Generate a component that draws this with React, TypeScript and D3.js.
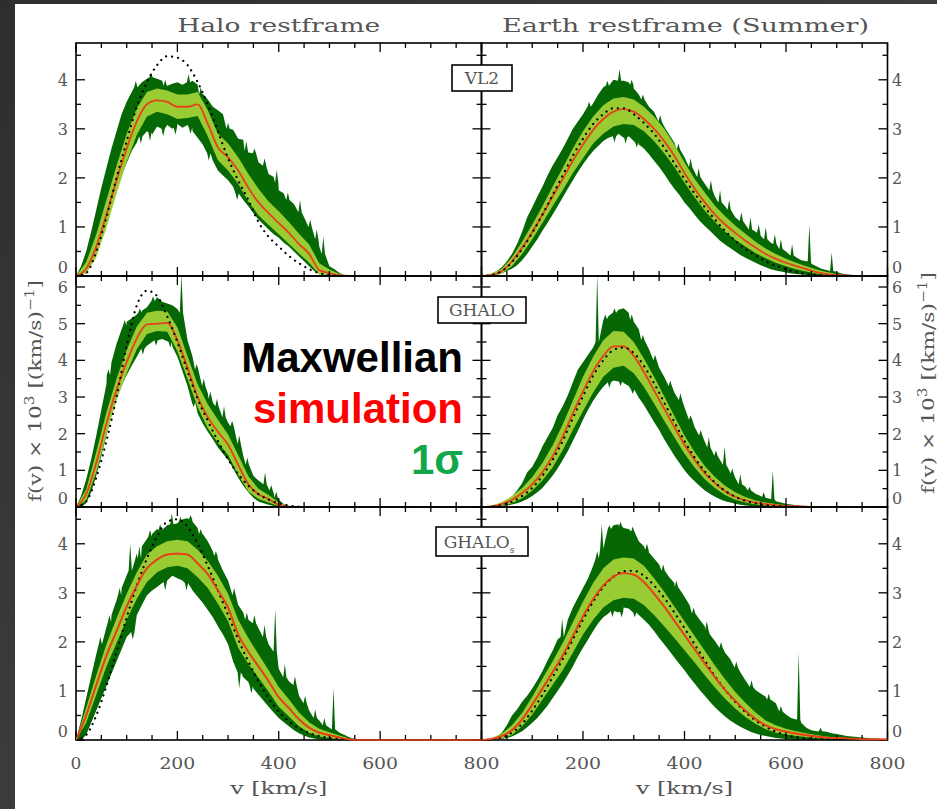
import React from "react";
import * as d3 from "d3";

// ---------- grids ----------
const V20 = d3.range(0, 801, 20);
const V10 = d3.range(0, 801, 10);
const pad = (a: number[], n: number) => a.concat(new Array(Math.max(0, n - a.length)).fill(0));

// ---------- labels ----------
const columnTitles = ["Halo restframe", "Earth restframe (Summer)"];
const legendLabels = ["Maxwellian", "simulation", "1σ"];
const legendColors = ["#000000", "#ff0000", "#12a84a"];
const xTickLabelsLeft = [0, 200, 400, 600, 800];
const xTickLabelsRight = [200, 400, 600, 800];
const yTicksRow = [[0, 1, 2, 3, 4], [0, 1, 2, 3, 4, 5, 6], [0, 1, 2, 3, 4]];
const yMaxRow = [4.75, 6.3, 4.75];
const simNames = ["VL2", "GHALO", "GHALO"];
const simSubs = ["", "", "s"];

// ---------- Panel A: VL2, halo restframe ----------
const maxwellA = pad([
  0, 0.06, 0.5, 1.2, 2.0, 2.75, 3.45, 3.95, 4.3, 4.48,
  4.45, 4.3, 3.95, 3.5, 2.95, 2.4, 1.95, 1.55, 1.1, 0.8,
  0.6, 0.41, 0.26, 0.14, 0.06, 0.02, 0], 41);
const simA = pad([
  0, 0.15, 0.6, 1.25, 1.95, 2.6, 3.15, 3.5, 3.58, 3.55,
  3.45, 3.45, 3.5, 3.1, 2.62, 2.42, 2.15, 1.8, 1.5, 1.28,
  1.08, 0.88, 0.65, 0.45, 0.12, 0.06, 0.01, 0], 41);
const lightHiA = pad([
  0, 0.28, 0.85, 1.55, 2.25, 2.9, 3.42, 3.75, 3.82, 3.78,
  3.7, 3.7, 3.75, 3.38, 2.9, 2.7, 2.42, 2.08, 1.78, 1.52,
  1.32, 1.1, 0.86, 0.64, 0.26, 0.13, 0.04, 0], 41);
const lightLoA = pad([
  0, 0.04, 0.38, 0.98, 1.68, 2.32, 2.88, 3.25, 3.35, 3.3,
  3.2, 3.22, 3.26, 2.85, 2.36, 2.15, 1.88, 1.52, 1.24, 1.04,
  0.85, 0.66, 0.46, 0.27, 0.03, 0.01, 0], 41);
const darkHiA = pad([
  0, 0.2, 0.5, 0.9, 1.35, 1.8, 2.2, 2.6, 2.95, 3.3,
  3.55, 3.75, 3.92, 3.95, 4.02, 4.1, 4.02, 3.98, 3.88, 3.92,
  3.95, 3.9, 4.05, 3.98, 3.9, 3.72, 3.6, 3.45, 3.38, 3.3,
  3.05, 2.98, 2.8, 2.78, 2.52, 2.55, 2.32, 2.3, 2.08, 2.02,
  1.75, 1.68, 1.55, 1.47, 1.35, 1.2, 1.0, 0.82, 0.6, 0.33,
  0.2, 0.14, 0.06, 0.01, 0], 81);
const darkLoA = pad([
  0, 0, 0.1, 0.3, 0.55, 0.85, 1.15, 1.45, 1.75, 2.05,
  2.3, 2.55, 2.72, 2.85, 2.95, 2.88, 3.05, 2.98, 3.08, 3.0,
  3.1, 3.02, 3.08, 2.95, 2.82, 2.68, 2.52, 2.35, 2.15, 2.05,
  1.95, 1.82, 1.7, 1.55, 1.42, 1.28, 1.15, 1.05, 0.95, 0.85,
  0.78, 0.68, 0.6, 0.5, 0.4, 0.3, 0.2, 0.1, 0.04, 0.02, 0], 81);
const spikesA = [[396, 2.16, 1.9], [442, 1.55, 1.3], [488, 0.8, 0.45], [222, 4.12, 3.95],
  [118, 3.98, 3.85], [148, 4.15, 4.05], [176, 4.0, 3.88], [246, 3.85, 3.7], [300, 3.12, 3.0],
  [336, 2.75, 2.55], [352, 2.6, 2.5], [372, 2.4, 2.25], [418, 1.7, 1.55], [462, 1.15, 1.0], [475, 0.95, 0.75]];
const dipsA = [[128, 2.7, 2.85], [146, 2.75, 2.93], [172, 2.85, 3.0], [196, 2.88, 3.02], [226, 2.9, 3.02], [262, 2.35, 2.5], [318, 1.55, 1.68]];

// ---------- Panel B: VL2, earth restframe ----------
const maxwellB = pad([
  0, 0.02, 0.1, 0.28, 0.55, 0.88, 1.25, 1.65, 2.05, 2.45,
  2.8, 3.1, 3.3, 3.42, 3.42, 3.3, 3.12, 2.9, 2.62, 2.3,
  1.98, 1.68, 1.4, 1.15, 0.92, 0.72, 0.55, 0.42, 0.3, 0.21,
  0.14, 0.08, 0.04, 0.02, 0.01, 0], 41);
const simB = pad([
  0, 0.02, 0.1, 0.3, 0.58, 0.9, 1.25, 1.62, 1.98, 2.35,
  2.68, 2.98, 3.2, 3.35, 3.4, 3.35, 3.2, 3.0, 2.75, 2.45,
  2.1, 1.78, 1.5, 1.25, 1.05, 0.88, 0.72, 0.58, 0.45, 0.35,
  0.27, 0.2, 0.14, 0.08, 0.04, 0.02, 0.01, 0], 41);
const lightHiB = pad([
  0, 0.05, 0.15, 0.38, 0.7, 1.05, 1.42, 1.82, 2.2, 2.6,
  2.95, 3.25, 3.48, 3.62, 3.65, 3.6, 3.45, 3.25, 3.0, 2.68,
  2.32, 1.98, 1.7, 1.43, 1.22, 1.03, 0.86, 0.7, 0.56, 0.45,
  0.35, 0.27, 0.2, 0.13, 0.08, 0.04, 0.02, 0.01, 0], 41);
const lightLoB = pad([
  0, 0, 0.05, 0.2, 0.45, 0.75, 1.08, 1.42, 1.75, 2.1,
  2.4, 2.7, 2.9, 3.05, 3.1, 3.08, 2.95, 2.75, 2.5, 2.22,
  1.9, 1.6, 1.33, 1.1, 0.9, 0.74, 0.6, 0.47, 0.36, 0.27,
  0.2, 0.14, 0.09, 0.05, 0.02, 0.01, 0], 41);
const darkHiB = pad([
  0, 0.02, 0.05, 0.1, 0.18, 0.3, 0.45, 0.65, 0.9, 1.2,
  1.4, 1.62, 1.82, 2.05, 2.25, 2.42, 2.6, 2.8, 3.0, 3.15,
  3.3, 3.45, 3.52, 3.7, 3.85, 3.92, 4.0, 4.05, 3.98, 3.95,
  3.82, 3.7, 3.6, 3.45, 3.35, 3.18, 3.05, 2.88, 2.72, 2.55,
  2.42, 2.25, 2.12, 2.0, 1.88, 1.75, 1.62, 1.52, 1.42, 1.3,
  1.2, 1.12, 1.05, 0.95, 0.9, 0.82, 0.75, 0.68, 0.62, 0.55,
  0.5, 0.42, 0.38, 0.32, 0.3, 0.25, 0.2, 0.15, 0.12, 0.1,
  0.08, 0.05, 0.03, 0.02, 0.01, 0], 81);
const darkLoB = pad([
  0, 0, 0, 0.02, 0.05, 0.1, 0.15, 0.22, 0.32, 0.45,
  0.6, 0.75, 0.92, 1.08, 1.25, 1.42, 1.6, 1.78, 1.95, 2.12,
  2.28, 2.42, 2.55, 2.65, 2.75, 2.82, 2.85, 2.9, 2.82, 2.85,
  2.75, 2.68, 2.6, 2.48, 2.35, 2.22, 2.08, 1.92, 1.78, 1.65,
  1.5, 1.38, 1.25, 1.12, 1.02, 0.92, 0.82, 0.72, 0.64, 0.57,
  0.5, 0.43, 0.37, 0.32, 0.27, 0.22, 0.18, 0.14, 0.11, 0.09,
  0.07, 0.05, 0.04, 0.03, 0.02, 0.01, 0], 81);
const spikesB = [[272, 4.22, 3.98], [646, 1.05, 0.3], [690, 0.48, 0.1], [470, 1.75, 1.5], [530, 1.2, 0.95], [560, 1.0, 0.75], [590, 0.75, 0.55],
  [212, 3.55, 3.45], [248, 3.98, 3.88], [296, 4.0, 3.9], [318, 3.7, 3.6], [352, 3.28, 3.15], [388, 2.7, 2.58], [412, 2.4, 2.22],
  [428, 2.2, 2.02], [452, 1.95, 1.75], [488, 1.55, 1.35], [512, 1.3, 1.12], [546, 1.05, 0.88], [578, 0.85, 0.65], [612, 0.65, 0.42]];
const dipsB = [[262, 2.72, 2.85], [284, 2.7, 2.83], [306, 2.62, 2.72]];

// ---------- Panel C: GHALO, halo restframe ----------
const maxwellC = pad([
  0, 0.15, 0.8, 1.8, 3.0, 4.4, 5.5, 5.9, 5.75, 5.2,
  4.5, 3.7, 2.95, 2.35, 1.8, 1.3, 0.9, 0.58, 0.35, 0.2,
  0.1, 0.04, 0.01, 0], 41);
const simC = pad([
  0, 0.35, 1.2, 2.27, 3.2, 3.95, 4.6, 4.98, 5.0, 5.02,
  4.55, 3.8, 3.0, 2.45, 2.05, 1.7, 1.15, 0.62, 0.35, 0.22,
  0.06, 0.01, 0], 41);
const lightHiC = pad([
  0, 0.48, 1.5, 2.58, 3.5, 4.28, 4.92, 5.3, 5.35, 5.33,
  4.9, 4.12, 3.35, 2.8, 2.38, 1.98, 1.42, 0.84, 0.5, 0.33,
  0.12, 0.03, 0], 41);
const lightLoC = pad([
  0, 0.18, 0.95, 1.98, 2.92, 3.65, 4.3, 4.72, 4.8, 4.78,
  4.25, 3.5, 2.72, 2.15, 1.75, 1.42, 0.88, 0.42, 0.22, 0.12,
  0.02, 0], 41);
const darkHiC = pad([
  0, 0.3, 0.75, 1.3, 1.95, 2.65, 3.35, 3.95, 4.45, 4.85,
  5.05, 5.15, 5.25, 5.35, 5.45, 5.6, 5.72, 5.6, 5.55, 5.5,
  5.4, 5.0, 4.55, 4.1, 3.7, 3.35, 3.1, 2.85, 2.65, 2.5,
  2.3, 2.05, 1.75, 1.4, 1.1, 0.85, 0.72, 0.65, 0.5, 0.38,
  0.2, 0.08, 0.02, 0], 81);
const darkLoC = pad([
  0, 0, 0.1, 0.4, 0.85, 1.4, 1.95, 2.5, 2.95, 3.3,
  3.6, 3.85, 4.1, 4.3, 4.4, 4.5, 4.55, 4.58, 4.52, 4.38,
  4.1, 3.7, 3.3, 2.9, 2.55, 2.28, 2.05, 1.85, 1.62, 1.45,
  1.28, 1.05, 0.8, 0.58, 0.4, 0.25, 0.15, 0.1, 0.06, 0.03,
  0.01, 0], 81);
const spikesC = [[208, 6.35, 5.3], [373, 0.95, 0.62], [265, 3.15, 2.95], [292, 2.75, 2.45], [395, 0.42, 0.25],
  [64, 3.75, 3.6], [96, 5.1, 4.95], [126, 5.42, 5.3], [152, 5.75, 5.62], [238, 3.9, 3.75], [252, 3.5, 3.3],
  [278, 2.95, 2.75], [308, 2.35, 2.2], [322, 1.95, 1.72], [338, 1.35, 1.15], [385, 0.6, 0.45]];
const dipsC = [[132, 4.15, 4.32], [158, 4.4, 4.55], [186, 4.35, 4.5], [232, 2.72, 2.85]];

// ---------- Panel D: GHALO, earth restframe ----------
const maxwellD = pad([
  0, 0.01, 0.05, 0.14, 0.3, 0.52, 0.85, 1.28, 1.8, 2.42,
  3.02, 3.58, 4.0, 4.28, 4.35, 4.2, 3.85, 3.38, 2.85, 2.32,
  1.8, 1.35, 0.97, 0.67, 0.44, 0.28, 0.17, 0.1, 0.05, 0.03,
  0.01, 0], 41);
const simD = pad([
  0, 0.02, 0.08, 0.2, 0.38, 0.62, 0.95, 1.38, 1.92, 2.55,
  3.15, 3.7, 4.12, 4.38, 4.38, 4.12, 3.68, 3.18, 2.68, 2.18,
  1.7, 1.28, 0.92, 0.65, 0.43, 0.28, 0.18, 0.12, 0.08, 0.05,
  0.03, 0.02, 0.01, 0], 41);
const lightHiD = pad([
  0, 0.04, 0.13, 0.3, 0.52, 0.82, 1.2, 1.68, 2.25, 2.9,
  3.55, 4.1, 4.55, 4.8, 4.78, 4.5, 4.05, 3.55, 3.02, 2.48,
  1.95, 1.5, 1.12, 0.82, 0.58, 0.4, 0.27, 0.18, 0.12, 0.08,
  0.05, 0.03, 0.02, 0.01, 0], 41);
const lightLoD = pad([
  0, 0, 0.03, 0.1, 0.24, 0.44, 0.72, 1.08, 1.55, 2.1,
  2.62, 3.12, 3.55, 3.8, 3.85, 3.65, 3.28, 2.82, 2.35, 1.9,
  1.45, 1.08, 0.76, 0.52, 0.33, 0.2, 0.12, 0.07, 0.04, 0.02,
  0.01, 0], 41);
const darkHiD = pad([
  0, 0.01, 0.03, 0.07, 0.12, 0.18, 0.28, 0.45, 0.65, 0.95,
  1.1, 1.35, 1.65, 1.9, 2.15, 2.5, 2.75, 3.05, 3.4, 3.75,
  3.95, 4.15, 4.35, 4.7, 5.1, 5.2, 5.3, 5.38, 5.42, 5.3,
  5.05, 4.85, 4.55, 4.3, 4.05, 3.8, 3.55, 3.35, 3.12, 2.95,
  2.72, 2.42, 2.18, 1.98, 1.78, 1.58, 1.42, 1.28, 1.1, 0.95,
  0.8, 0.65, 0.55, 0.45, 0.36, 0.3, 0.25, 0.22, 0.16, 0.12,
  0.09, 0.07, 0.05, 0.03, 0.02, 0.01, 0], 81);
const darkLoD = pad([
  0, 0, 0, 0.01, 0.02, 0.04, 0.07, 0.1, 0.15, 0.22,
  0.3, 0.4, 0.52, 0.68, 0.85, 1.05, 1.28, 1.52, 1.8, 2.08,
  2.38, 2.65, 2.9, 3.1, 3.28, 3.4, 3.45, 3.42, 3.38, 3.3,
  3.15, 2.98, 2.78, 2.55, 2.32, 2.1, 1.85, 1.62, 1.4, 1.2,
  1.0, 0.84, 0.7, 0.57, 0.45, 0.36, 0.28, 0.21, 0.16, 0.12,
  0.09, 0.06, 0.04, 0.03, 0.02, 0.01, 0], 81);
const spikesD = [[228, 6.35, 4.5], [479, 1.65, 1.15], [574, 1.0, 0.22], [448, 1.9, 1.62], [510, 0.9, 0.62],
  [244, 5.25, 5.12], [262, 5.42, 5.3], [296, 5.25, 5.1], [318, 4.7, 4.55], [342, 4.15, 4.0], [372, 3.45, 3.3],
  [392, 3.1, 2.92], [412, 2.5, 2.38], [432, 2.1, 1.95], [462, 1.55, 1.4], [494, 1.05, 0.9], [528, 0.55, 0.45], [556, 0.4, 0.27]];
const dipsD = [[252, 3.25, 3.4], [274, 3.3, 3.42], [298, 3.08, 3.2]];

// ---------- Panel E: GHALO_s, halo restframe ----------
const maxwellE = pad([
  0, 0.1, 0.5, 1.1, 1.8, 2.5, 3.15, 3.7, 4.15, 4.45,
  4.5, 4.35, 4.0, 3.55, 3.05, 2.55, 2.05, 1.6, 1.2, 0.85,
  0.58, 0.38, 0.24, 0.14, 0.08, 0.04, 0.02, 0.01, 0], 41);
const simE = pad([
  0, 0.5, 1.12, 1.72, 2.22, 2.72, 3.15, 3.5, 3.68, 3.78,
  3.8, 3.78, 3.6, 3.38, 3.05, 2.7, 2.15, 1.8, 1.5, 1.2,
  0.87, 0.65, 0.42, 0.25, 0.15, 0.1, 0.05, 0.01, 0], 41);
const lightHiE = pad([
  0, 0.65, 1.32, 1.95, 2.48, 2.98, 3.42, 3.78, 3.95, 4.05,
  4.08, 4.05, 3.88, 3.65, 3.35, 2.98, 2.45, 2.08, 1.75, 1.42,
  1.08, 0.83, 0.56, 0.36, 0.23, 0.16, 0.09, 0.03, 0], 41);
const lightLoE = pad([
  0, 0.35, 0.92, 1.5, 1.98, 2.45, 2.88, 3.22, 3.42, 3.52,
  3.55, 3.5, 3.32, 3.1, 2.78, 2.42, 1.88, 1.55, 1.27, 0.99,
  0.68, 0.48, 0.28, 0.15, 0.07, 0.04, 0.01, 0], 41);
const darkHiE = pad([
  0, 0.4, 0.85, 1.3, 1.75, 2.05, 2.3, 2.55, 2.85, 3.1,
  3.36, 3.55, 3.8, 3.95, 4.1, 4.2, 4.3, 4.28, 4.38, 4.45,
  4.42, 4.5, 4.52, 4.45, 4.32, 4.2, 4.05, 3.85, 3.68, 3.45,
  3.25, 3.0, 2.75, 2.6, 2.5, 2.4, 2.28, 2.1, 1.95, 1.75,
  1.45, 1.3, 1.2, 1.15, 0.9, 0.75, 0.6, 0.48, 0.4, 0.3,
  0.25, 0.2, 0.15, 0.1, 0.05, 0.02, 0], 81);
const darkLoE = pad([
  0, 0, 0.1, 0.35, 0.6, 0.85, 1.1, 1.35, 1.6, 1.85,
  2.1, 2.3, 2.55, 2.75, 2.95, 3.05, 3.12, 3.2, 3.25, 3.35,
  3.3, 3.25, 3.2, 3.05, 2.92, 2.8, 2.65, 2.5, 2.32, 2.15,
  1.95, 1.6, 1.4, 1.28, 1.18, 1.05, 0.92, 0.8, 0.68, 0.56,
  0.45, 0.36, 0.28, 0.2, 0.14, 0.09, 0.05, 0.03, 0.01, 0], 81);
const spikesE = [[107, 4.0, 3.45], [189, 4.62, 4.4], [337, 2.6, 2.45], [393, 2.67, 1.8], [508, 1.06, 0.22], [125, 3.95, 3.7],
  [48, 2.1, 1.95], [66, 2.55, 2.4], [86, 3.1, 2.95], [146, 4.28, 4.15], [166, 4.4, 4.28], [206, 4.55, 4.45], [226, 4.58, 4.5],
  [246, 4.3, 4.2], [276, 3.85, 3.75], [312, 3.1, 2.95], [352, 2.55, 2.38], [372, 2.35, 2.1], [412, 1.55, 1.28],
  [432, 1.3, 1.12], [452, 0.9, 0.75], [472, 0.62, 0.45], [490, 0.45, 0.3]];
const dipsE = [[112, 2.05, 2.2], [176, 3.05, 3.22], [218, 3.05, 3.2], [322, 1.05, 1.38], [346, 0.95, 1.1]];

// ---------- Panel F: GHALO_s, earth restframe ----------
const maxwellF = pad([
  0, 0.01, 0.05, 0.15, 0.33, 0.6, 0.92, 1.28, 1.65, 2.05,
  2.45, 2.82, 3.12, 3.33, 3.44, 3.45, 3.35, 3.15, 2.9, 2.6,
  2.28, 1.95, 1.62, 1.3, 1.02, 0.78, 0.57, 0.4, 0.27, 0.17,
  0.1, 0.06, 0.03, 0.02, 0.01, 0], 41);
const simF = pad([
  0, 0.02, 0.08, 0.2, 0.42, 0.72, 1.05, 1.38, 1.72, 2.12,
  2.52, 2.87, 3.15, 3.33, 3.4, 3.37, 3.22, 2.98, 2.72, 2.43,
  2.14, 1.85, 1.56, 1.28, 1.02, 0.8, 0.6, 0.43, 0.3, 0.22,
  0.17, 0.13, 0.1, 0.07, 0.05, 0.04, 0.03, 0.02, 0.01, 0.01,
  0.01], 41);
const lightHiF = pad([
  0, 0.04, 0.13, 0.3, 0.55, 0.88, 1.25, 1.6, 1.98, 2.4,
  2.82, 3.2, 3.5, 3.68, 3.72, 3.7, 3.55, 3.3, 3.02, 2.72,
  2.42, 2.12, 1.82, 1.52, 1.24, 0.98, 0.76, 0.56, 0.4, 0.3,
  0.23, 0.18, 0.14, 0.1, 0.07, 0.05, 0.04, 0.03, 0.02, 0.01,
  0.01], 41);
const lightLoF = pad([
  0, 0, 0.03, 0.1, 0.28, 0.52, 0.82, 1.12, 1.42, 1.78,
  2.15, 2.45, 2.7, 2.85, 2.9, 2.88, 2.75, 2.55, 2.32, 2.08,
  1.83, 1.58, 1.32, 1.07, 0.84, 0.64, 0.47, 0.33, 0.22, 0.15,
  0.11, 0.08, 0.06, 0.04, 0.03, 0.02, 0.01, 0.01, 0], 41);
const darkHiF = pad([
  0, 0.01, 0.03, 0.07, 0.15, 0.3, 0.5, 0.62, 0.78, 0.9,
  1.05, 1.22, 1.4, 1.62, 1.82, 2.05, 2.25, 2.45, 2.7, 2.9,
  3.1, 3.3, 3.55, 3.9, 4.2, 4.32, 4.38, 4.4, 4.32, 4.3,
  4.18, 4.05, 3.95, 3.82, 3.7, 3.58, 3.45, 3.32, 3.2, 3.08,
  2.92, 2.75, 2.6, 2.45, 2.32, 2.15, 2.02, 1.9, 1.78, 1.65,
  1.52, 1.38, 1.22, 1.12, 1.02, 0.95, 0.88, 0.82, 0.75, 0.62,
  0.52, 0.45, 0.42, 0.35, 0.25, 0.2, 0.18, 0.2, 0.17, 0.14,
  0.12, 0.1, 0.08, 0.07, 0.06, 0.05, 0.04, 0.03, 0.03, 0.02,
  0.02], 81);
const darkLoF = pad([
  0, 0, 0, 0.01, 0.02, 0.04, 0.07, 0.12, 0.18, 0.26,
  0.35, 0.45, 0.57, 0.7, 0.85, 1.0, 1.15, 1.32, 1.5, 1.7,
  1.88, 2.05, 2.22, 2.38, 2.5, 2.58, 2.65, 2.6, 2.7, 2.68,
  2.62, 2.55, 2.45, 2.35, 2.22, 2.08, 1.95, 1.82, 1.68, 1.55,
  1.42, 1.28, 1.15, 1.02, 0.9, 0.78, 0.67, 0.57, 0.48, 0.4,
  0.33, 0.27, 0.22, 0.17, 0.13, 0.1, 0.08, 0.06, 0.04, 0.03,
  0.02, 0.01, 0], 81);
const spikesF = [[625, 1.78, 0.42], [159, 2.47, 2.1], [237, 4.4, 3.9],
  [228, 3.85, 3.7], [252, 4.38, 4.3], [274, 4.45, 4.35], [298, 4.35, 4.25], [326, 4.0, 3.88], [358, 3.58, 3.45],
  [384, 3.25, 3.12], [418, 2.7, 2.58], [444, 2.42, 2.25], [472, 2.0, 1.88], [502, 1.6, 1.48], [532, 1.22, 1.08],
  [566, 0.95, 0.82], [590, 0.7, 0.58], [668, 0.25, 0.18]];
const dipsF = [[258, 2.5, 2.63], [276, 2.5, 2.62], [302, 2.5, 2.6]];

// ---------- layout ----------
const W = 937, H = 809;
const COLS = [[76, 481.5], [481.5, 887.5]];
const ROWS = [[43, 276], [276, 507], [507, 740]];

const panels = [
  { row: 0, col: 0, max: maxwellA, sim: simA, lightHi: lightHiA, lightLo: lightLoA, darkHi: darkHiA, darkLo: darkLoA, spikes: spikesA, dips: dipsA },
  { row: 0, col: 1, max: maxwellB, sim: simB, lightHi: lightHiB, lightLo: lightLoB, darkHi: darkHiB, darkLo: darkLoB, spikes: spikesB, dips: dipsB },
  { row: 1, col: 0, max: maxwellC, sim: simC, lightHi: lightHiC, lightLo: lightLoC, darkHi: darkHiC, darkLo: darkLoC, spikes: spikesC, dips: dipsC },
  { row: 1, col: 1, max: maxwellD, sim: simD, lightHi: lightHiD, lightLo: lightLoD, darkHi: darkHiD, darkLo: darkLoD, spikes: spikesD, dips: dipsD },
  { row: 2, col: 0, max: maxwellE, sim: simE, lightHi: lightHiE, lightLo: lightLoE, darkHi: darkHiE, darkLo: darkLoE, spikes: spikesE, dips: dipsE },
  { row: 2, col: 1, max: maxwellF, sim: simF, lightHi: lightHiF, lightLo: lightLoF, darkHi: darkHiF, darkLo: darkLoF, spikes: spikesF, dips: dipsF },
];

const DARK = "#056805";
const LIGHT = "#99cc33";
const RED = "#e8401a";
const TXT = "#555555";
const SERIF = "'DejaVu Serif', serif";

function scales(p: any) {
  const [x0, x1] = COLS[p.col];
  const [y0, y1] = ROWS[p.row];
  const x = d3.scaleLinear().domain([0, 800]).range([x0, x1]);
  const y = d3.scaleLinear().domain([0, yMaxRow[p.row]]).range([y1, y0]);
  return { x, y, x0, x1, y0, y1 };
}

function edgeWithSpikes(values: number[], spikes: number[][]) {
  const sw = 3.2;
  let pts: number[][] = V10.map((v, i) => [v, values[i]]);
  pts = pts.filter(([v]) => !spikes.some(s => Math.abs(s[0] - v) <= sw + 0.5));
  spikes.forEach(s => { pts.push([s[0] - sw, s[2]], [s[0], s[1]], [s[0] + sw, s[2]]); });
  pts.sort((a, b) => a[0] - b[0]);
  return pts;
}

function Curves({ p, idx }: any) {
  const { x, y } = scales(p);
  const hi = edgeWithSpikes(p.darkHi, p.spikes);
  const lo = edgeWithSpikes(p.darkLo, p.dips).reverse();
  const line = d3.line<number[]>().x(d => x(d[0])).y(d => y(d[1]));
  const darkPath = line([...hi, ...lo]) + "Z";
  const lightArea = d3.area<number>()
    .x((_, i) => x(V20[i]))
    .y0((_, i) => y(p.lightLo[i]))
    .y1((_, i) => y(p.lightHi[i]))(V20);
  const simLine = d3.line<number>().x((_, i) => x(V20[i])).y(d => y(d)).curve(d3.curveMonotoneX)(p.sim);
  const maxLine = d3.line<number>().x((_, i) => x(V20[i])).y(d => y(d)).curve(d3.curveMonotoneX)(p.max);
  return (
    <g clipPath={`url(#clip${idx})`}>
      <path d={darkPath} fill={DARK} />
      <path d={lightArea || ""} fill={LIGHT} />
      <path d={simLine || ""} fill="none" stroke={RED} strokeWidth={1.8} />
      <path d={maxLine || ""} fill="none" stroke="#000" strokeWidth={2.2} strokeDasharray="0.1 6" strokeLinecap="round" />
    </g>
  );
}

function Frame({ p }: any) {
  const { x, y, x0, x1, y0, y1 } = scales(p);
  const xt = d3.range(0, 801, 50);
  const yt = d3.range(0, yMaxRow[p.row] + 0.001, 0.5);
  const els: any[] = [];
  xt.forEach((v, i) => {
    const len = v % 200 === 0 ? 9 : 5;
    els.push(<line key={"b" + i} x1={x(v)} x2={x(v)} y1={y1} y2={y1 - len} />);
    els.push(<line key={"t" + i} x1={x(v)} x2={x(v)} y1={y0} y2={y0 + len} />);
  });
  yt.forEach((f, i) => {
    const len = Math.abs(f - Math.round(f)) < 1e-6 ? 9 : 5;
    els.push(<line key={"l" + i} x1={x0} x2={x0 + len} y1={y(f)} y2={y(f)} />);
    els.push(<line key={"r" + i} x1={x1} x2={x1 - len} y1={y(f)} y2={y(f)} />);
  });
  return (
    <g stroke="#000" strokeWidth={1.3}>
      {els}
      <rect x={x0} y={y0} width={x1 - x0} height={y1 - y0} fill="none" strokeWidth={1.6} />
    </g>
  );
}

function YLabel({ tx, ty }: any) {
  return (
    <text transform={`translate(${tx},${ty}) rotate(-90)`} textAnchor="middle" fontFamily={SERIF} fontSize={17}
      fill={TXT} textLength={222} lengthAdjust="spacingAndGlyphs">
      f(v) × 10<tspan dy={-7} fontSize={12}>3</tspan><tspan dy={7}> [(km/s)</tspan><tspan dy={-7} fontSize={12}>−1</tspan><tspan dy={7}>]</tspan>
    </text>
  );
}

export default function App() {
  const boxes = [
    { x: 452, y: 65, w: 60, h: 26 },
    { x: 438, y: 297, w: 88, h: 26 },
    { x: 436, y: 527, w: 92, h: 29 },
  ];
  return (
    <svg width={W} height={H} style={{ position: "absolute", left: 0, top: 0, display: "block" }}>
      <defs>
        {panels.map((p, i) => {
          const { x0, x1, y0, y1 } = scales(p);
          return (
            <clipPath id={`clip${i}`} key={i}>
              <rect x={x0} y={y0} width={x1 - x0} height={y1 - y0} />
            </clipPath>
          );
        })}
        {[4, 5].map(i => {
          const { x0, x1, y0, y1 } = scales(panels[i]);
          return (
            <clipPath id={`clipb${i}`} key={"b" + i}>
              <rect x={x0} y={y0} width={x1 - x0} height={y1 - y0 + 1.2} />
            </clipPath>
          );
        })}
        <linearGradient id="bg" x1="0" x2="1" y1="0" y2="1">
          <stop offset="0" stopColor="#2e2e2e" />
          <stop offset="1" stopColor="#4a4a4a" />
        </linearGradient>
      </defs>
      <rect width={W} height={H} fill="url(#bg)" />
      <rect x={15} y={4} width={W - 15} height={H - 4} fill="#fff" />

      {panels.map((p, i) => <Curves key={i} p={p} idx={i} />)}
      {panels.map((p, i) => <Frame key={i} p={p} />)}
      {[4, 5].map(i => {
        const p = panels[i];
        const { x, y } = scales(p);
        const simLine = d3.line<number>().x((_, k) => x(V20[k])).y(d => y(d)).curve(d3.curveMonotoneX)(p.sim);
        return <path key={i} d={simLine || ""} fill="none" stroke={RED} strokeWidth={1.6} clipPath={`url(#clipb${i})`} />;
      })}

      {/* simulation name boxes */}
      {boxes.map((b, i) => (
        <g key={i}>
          <rect x={b.x} y={b.y} width={b.w} height={b.h} fill="#fff" stroke="#000" strokeWidth={1.6} />
          <text x={b.x + b.w / 2 - (simSubs[i] ? 3 : 0)} y={b.y + b.h / 2 + 6} textAnchor="middle" fontFamily={SERIF} fontSize={17} fill={TXT}>
            {simNames[i]}{simSubs[i] ? <tspan dy={5} fontSize={9}>{simSubs[i]}</tspan> : null}
          </text>
        </g>
      ))}

      {/* y tick labels */}
      {ROWS.map((r, ri) => {
        const y = d3.scaleLinear().domain([0, yMaxRow[ri]]).range([r[1], r[0]]);
        return yTicksRow[ri].map(t => (
          <g key={ri + "-" + t} fontFamily={SERIF} fontSize={16} fill={TXT}>
            <text x={68} y={y(t) + (t === 0 ? -3 : 6)} textAnchor="end">{t}</text>
            <text x={892} y={y(t) + (t === 0 ? -3 : 6)} textAnchor="start">{t}</text>
          </g>
        ));
      })}

      {/* x tick labels */}
      {[xTickLabelsLeft, xTickLabelsRight].map((ticks, ci) => {
        const x = d3.scaleLinear().domain([0, 800]).range(COLS[ci]);
        return ticks.map(t => (
          <text key={ci + "-" + t} x={x(t)} y={769} textAnchor="middle" fontFamily={SERIF} fontSize={17} fill={TXT}
            {...(t >= 100 ? { textLength: 36, lengthAdjust: "spacingAndGlyphs" } : {})}>{t}</text>
        ));
      })}

      {/* x axis titles */}
      {COLS.map((c, ci) => (
        <text key={ci} x={(c[0] + c[1]) / 2} y={794} textAnchor="middle" fontFamily={SERIF} fontSize={17} fill={TXT}
          textLength={97} lengthAdjust="spacingAndGlyphs">v [km/s]</text>
      ))}

      {/* column titles */}
      {columnTitles.map((t, ci) => (
        <text key={ci} x={(COLS[ci][0] + COLS[ci][1]) / 2 + (ci === 0 ? 0 : 1)} y={32} textAnchor="middle" fontFamily={SERIF}
          fontSize={19} fill={TXT} textLength={ci === 0 ? 203 : 367} lengthAdjust="spacingAndGlyphs">{t}</text>
      ))}

      <YLabel tx={41} ty={391} />
      <YLabel tx={934} ty={383} />

      {/* legend */}
      {legendLabels.map((t, i) => (
        <text key={i} x={463} y={372 + i * 51} textAnchor="end" fontFamily="'Liberation Sans', Arial, sans-serif"
          fontWeight="bold" fontSize={42} fill={legendColors[i]}>{t}</text>
      ))}
    </svg>
  );
}
